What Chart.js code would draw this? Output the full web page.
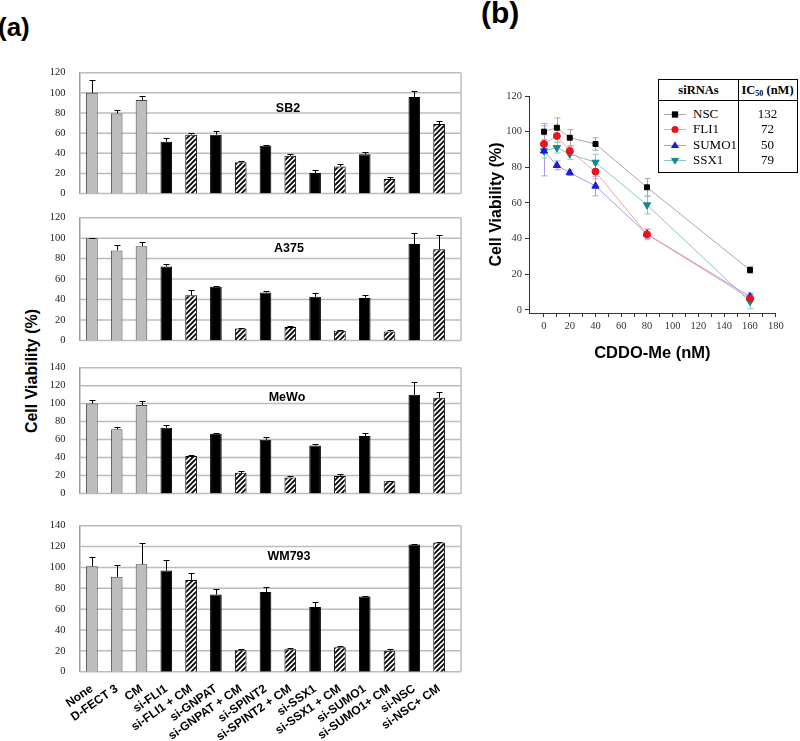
<!DOCTYPE html>
<html><head><meta charset="utf-8">
<script src="https://cdn.jsdelivr.net/npm/chart.js"></script>
<style>
html,body{margin:0;padding:0;background:#fff;}
body{width:800px;height:741px;position:relative;overflow:hidden;font-family:'Liberation Sans',Arial,sans-serif;}
canvas{position:absolute;}
.lbl{position:absolute;font-weight:bold;white-space:nowrap;color:#000;}
.ptitle{position:absolute;font-weight:bold;font-size:12.5px;line-height:1;transform:translate(-50%,-50%);white-space:nowrap;}
#legendTable{position:absolute;left:658px;top:79px;width:140px;height:94px;border:1.5px solid #000;box-sizing:border-box;font-family:'Liberation Serif','Times New Roman',serif;color:#000;background:#fff;z-index:5;}
</style></head><body>

<div class="lbl" style="left:-2px;top:14px;font-size:26px;line-height:26px;">(a)</div>
<div class="lbl" style="left:481px;top:-2px;font-size:30px;line-height:30px;">(b)</div>
<div class="lbl" style="left:-68px;top:361px;width:200px;height:20px;line-height:20px;font-size:16px;text-align:center;transform:rotate(-90deg);">Cell Viability (%)</div>
<div id="legendTable"></div>

<script>
// ---------------- Panel (a) data ----------------
const categories = ['None','D-FECT 3','CM','si-FLI1','si-FLI1 + CM','si-GNPAT','si-GNPAT + CM','si-SPINT2','si-SPINT2 + CM','si-SSX1','si-SSX1 + CM','si-SUMO1','si-SUMO1+ CM','si-NSC','si-NSC+ CM'];
const barKinds = ['gray','gray','gray','black','hatch','black','hatch','black','hatch','black','hatch','black','hatch','black','hatch'];

const sb2Values   = [100, 79.5, 93, 51.5, 58.5, 58.5, 31, 47.5, 37.5, 20.5, 27, 39, 14.5, 96, 69];
const sb2Errors   = [13, 3.5, 3.5, 4, 2, 4, 1.5, 1, 1.5, 2.5, 2, 2, 1.5, 5.5, 3];
const a375Values  = [100, 88, 92, 72.3, 44.2, 52.5, 11.6, 46.8, 13.1, 42.7, 9.5, 41.5, 8.6, 94.2, 89.2];
const a375Errors  = [0.5, 5, 4.4, 2.4, 5, 0.5, 0.5, 1.5, 1, 3.8, 0.6, 3.3, 2, 11, 14];
const mewoValues  = [100, 71.5, 98.4, 73.2, 41.7, 66.5, 22.9, 59.8, 17.8, 53.4, 19.5, 63.8, 13.5, 109.8, 106.4];
const mewoErrors  = [3.7, 2.4, 4.7, 3, 0.7, 1, 2, 3, 1.7, 2, 1.7, 4, 0.5, 14.5, 6];
const wm793Values = [101, 91, 103, 97, 88, 74, 20.5, 76.5, 21.5, 62, 23.5, 72, 20, 122, 124];
const wm793Errors = [8.6, 11, 20.5, 10, 6.5, 5, 1, 5, 0.8, 5, 1.5, 0.5, 1.5, 0.5, 0.5];
const panelNames  = ['SB2','A375','MeWo','WM793'];
const panelMaxima = [120, 120, 140, 140];

// ---------------- Panel (b) data ----------------
const doses = [0, 10, 20, 40, 80, 160];
const seriesNames = ['NSC','FLI1','SUMO1','SSX1'];
const nscViability   = [100, 102.2, 96.6, 93.1, 68.8, 22.4];
const nscErrors      = [4.5, 5.5, 4.5, 3.5, 5, 2];
const fli1Viability  = [93.1, 97.6, 89.2, 77.6, 42.4, 6.5];
const fli1Errors     = [5, 3.5, 2.5, 4, 3, 2];
const sumo1Viability = [89.2, 81.1, 77, 69.5, 42.6, 7.5];
const sumo1Errors    = [14, 2.5, 1.5, 5.5, 2.5, 2];
const ssx1Viability  = [89.2, 91, 87.5, 82.8, 58.9, 4.7];
const ssx1Errors     = [4, 3, 3, 4.5, 5, 4];
const ic50Values     = ['132','72','50','79'];
const doseTicks      = [0,10,20,30,40,50,60,70,80,90,100,110,120,130,140,150,160,170,180];
const viabilityTicks = [0,20,40,60,80,100,120];

// ---------------- helpers ----------------
function makeHatch(ctx){
  const t=document.createElement('canvas'); t.width=5; t.height=5;
  const g=t.getContext('2d');
  g.fillStyle='#fff'; g.fillRect(0,0,5,5);
  g.strokeStyle='#000'; g.lineWidth=1.9; g.lineCap='square';
  g.beginPath();
  g.moveTo(0,5); g.lineTo(5,0);
  g.moveTo(-1,1); g.lineTo(1,-1);
  g.moveTo(4,6); g.lineTo(6,4);
  g.stroke();
  return ctx.createPattern(t,'repeat');
}

const gridExtPlugin = {
  id:'gridExt',
  beforeDatasetsDraw(chart, args, opts){
    const y=chart.scales.y, ca=chart.chartArea, ctx=chart.ctx;
    const xEnd = opts.xEnd;
    ctx.save();
    ctx.strokeStyle='#bcbcbc'; ctx.lineWidth=1.5;
    y.ticks.forEach(t=>{
      const py=y.getPixelForValue(t.value);
      ctx.beginPath(); ctx.moveTo(ca.left, py); ctx.lineTo(xEnd, py); ctx.stroke();
    });
    ctx.beginPath();
    ctx.moveTo(xEnd, y.getPixelForValue(y.max)); ctx.lineTo(xEnd, y.getPixelForValue(0)); ctx.stroke();
    ctx.restore();
  }
};

const barErrorPlugin = {
  id:'barErr',
  afterDatasetsDraw(chart){
    const ds=chart.data.datasets[0], meta=chart.getDatasetMeta(0), y=chart.scales.y, ctx=chart.ctx;
    ctx.save(); ctx.strokeStyle='#000'; ctx.lineWidth=1;
    meta.data.forEach((bar,i)=>{
      const e=ds.errors[i]; if(!e) return;
      const top=Math.round(y.getPixelForValue(ds.data[i]+e))+0.5;
      const x=Math.round(bar.x)+0.5;
      ctx.beginPath();
      ctx.moveTo(x, bar.y); ctx.lineTo(x, top);
      ctx.moveTo(x-3, top); ctx.lineTo(x+3, top);
      ctx.stroke();
    });
    ctx.restore();
  }
};

// ---------------- Panel (a) charts ----------------
const panelValues = [sb2Values, a375Values, mewoValues, wm793Values];
const panelErrors = [sb2Errors, a375Errors, mewoErrors, wm793Errors];
const panelGeom = [
  {top:60,  h:160, areaTop:72.7,  areaBottom:206.8, title:[288,108]},
  {top:205, h:160, areaTop:217.7, areaBottom:352.7, title:[289,248]},
  {top:355, h:165, areaTop:367.7, areaBottom:506.7, title:[287,397]},
  {top:513, h:228, areaTop:525.7, areaBottom:671.7, title:[289,556]}
];

panelGeom.forEach((g,p)=>{
  const isLast = p===panelGeom.length-1;
  const cv=document.createElement('canvas');
  cv.width=430; cv.height=g.h;
  cv.style.left='40px'; cv.style.top=g.top+'px';
  cv.style.width='430px'; cv.style.height=g.h+'px';
  document.body.appendChild(cv);
  const ctx=cv.getContext('2d');
  const hatch=makeHatch(ctx);
  const fills={gray:'#bdbdbd', black:'#000', hatch:hatch};
  const borders={gray:'#444', black:'#000', hatch:'#000'};
  const padTop=g.areaTop-g.top;
  const padBottom=isLast?0:(g.top+g.h-g.areaBottom);
  new Chart(cv,{
    type:'bar',
    data:{labels:categories, datasets:[{
      data:panelValues[p], errors:panelErrors[p],
      backgroundColor:barKinds.map(k=>fills[k]),
      borderColor:barKinds.map(k=>borders[k]),
      borderWidth:1, barPercentage:0.47, categoryPercentage:1
    }]},
    options:{
      responsive:false, animation:false, devicePixelRatio:1,
      layout:{padding:{top:padTop, bottom:padBottom, left:0, right:18.5}},
      plugins:{legend:{display:false}, tooltip:{enabled:false}, gridExt:{xEnd:421}},
      scales:{
        x:{
          display:isLast,
          grid:{display:false}, border:{display:false},
          ticks:{autoSkip:false, minRotation:35, maxRotation:35, padding:2, color:'#000',
                 font:{family:"'Liberation Sans', Arial, sans-serif", size:12, weight:'bold'}},
          afterFit:s=>{ s.height = g.top+g.h-g.areaBottom; }
        },
        y:{
          min:0, max:panelMaxima[p],
          grid:{display:false},
          border:{display:true, color:'#9a9a9a', width:1.5},
          ticks:{stepSize:20, padding:6, color:'#222',
                 font:{family:"'Liberation Serif','Times New Roman',serif", size:10.5}},
          afterFit:s=>{ s.width=39.5; }
        }
      }
    },
    plugins:[gridExtPlugin, barErrorPlugin]
  });
  const t=document.createElement('div');
  t.className='ptitle'; t.textContent=panelNames[p];
  t.style.left=g.title[0]+'px'; t.style.top=g.title[1]+'px';
  document.body.appendChild(t);
});

// ---------------- Panel (b) chart ----------------
const seriesValues = [nscViability, fli1Viability, sumo1Viability, ssx1Viability];
const seriesErrors = [nscErrors, fli1Errors, sumo1Errors, ssx1Errors];
const seriesStyle = [
  {point:'rect',     rot:0,   marker:'#000000', line:'#a8a8a8', r:3.5},
  {point:'circle',   rot:0,   marker:'#e8141a', line:'#f3a3a3', r:3.5},
  {point:'triangle', rot:0,   marker:'#1a1ae0', line:'#a99be6', r:4.2},
  {point:'triangle', rot:180, marker:'#128a8a', line:'#86c7c7', r:4.2}
];

const lineErrorPlugin = {
  id:'lineErr',
  beforeDatasetsDraw(chart){
    const y=chart.scales.y, ctx=chart.ctx;
    ctx.save(); ctx.lineWidth=1;
    chart.data.datasets.forEach((ds,d)=>{
      const meta=chart.getDatasetMeta(d);
      ctx.strokeStyle=ds.borderColor;
      meta.data.forEach((pt,i)=>{
        const e=ds.errors[i], v=ds.data[i].y;
        const y1=y.getPixelForValue(v+e), y2=y.getPixelForValue(v-e);
        const x=Math.round(pt.x)+0.5;
        ctx.beginPath();
        ctx.moveTo(x,y1); ctx.lineTo(x,y2);
        ctx.moveTo(x-3,y1); ctx.lineTo(x+3,y1);
        ctx.moveTo(x-3,y2); ctx.lineTo(x+3,y2);
        ctx.stroke();
      });
    });
    ctx.restore();
  }
};

const cvB=document.createElement('canvas');
cvB.width=330; cvB.height=290;
cvB.style.left='470px'; cvB.style.top='80px';
cvB.style.width='330px'; cvB.style.height='290px';
document.body.appendChild(cvB);
const serifTick={family:"'Liberation Serif','Times New Roman',serif", size:10.5};
const chartB = new Chart(cvB,{
  type:'line',
  data:{datasets:seriesNames.map((n,s)=>({
    label:n,
    data:doses.map((x,i)=>({x:x, y:seriesValues[s][i]})),
    errors:seriesErrors[s],
    borderColor:seriesStyle[s].line, borderWidth:1,
    pointStyle:seriesStyle[s].point, pointRotation:seriesStyle[s].rot,
    pointRadius:seriesStyle[s].r, pointBackgroundColor:seriesStyle[s].marker,
    pointBorderColor:seriesStyle[s].marker, pointBorderWidth:1,
    tension:0, fill:false
  }))},
  options:{
    responsive:false, animation:false, devicePixelRatio:1,
    layout:{padding:{top:16, left:0, right:24.25, bottom:0}},
    plugins:{legend:{display:false}, tooltip:{enabled:false}},
    scales:{
      x:{
        type:'linear', min:-11.65, max:180,
        afterBuildTicks:s=>{ s.ticks=doseTicks.map(v=>({value:v})); },
        grid:{drawOnChartArea:false, drawTicks:true, tickLength:4, color:'#333'},
        border:{display:true, color:'#333', width:1},
        ticks:{padding:3, color:'#333', font:serifTick, autoSkip:false, maxRotation:0,
               callback:v=> (v%20===0 ? String(v) : '')},
        title:{display:true, text:'CDDO-Me (nM)', color:'#000',
               font:{family:"'Liberation Sans', Arial, sans-serif", size:16.5, weight:'bold'},
               padding:{top:0, bottom:7}},
        afterFit:s=>{ s.height=57; }
      },
      y:{
        min:-1.7, max:120,
        afterBuildTicks:s=>{ s.ticks=viabilityTicks.map(v=>({value:v})); },
        grid:{drawOnChartArea:false, drawTicks:true, tickLength:4, color:'#333'},
        border:{display:true, color:'#333', width:1},
        ticks:{padding:3, color:'#333', font:serifTick},
        title:{display:true, text:'Cell Viability (%)', color:'#000',
               font:{family:"'Liberation Sans', Arial, sans-serif", size:16, weight:'bold'},
               padding:{top:17.4, bottom:0}},
        afterFit:s=>{ s.width=59; }
      }
    }
  },
  plugins:[lineErrorPlugin]
});

// ---------------- Legend table (built from chart datasets) ----------------
(function buildLegend(){
  const box=document.getElementById('legendTable');
  const add=(html,style)=>{ const d=document.createElement('div'); d.style.position='absolute'; Object.assign(d.style,style); d.innerHTML=html; box.appendChild(d); return d; };
  add('', {left:'0', top:'19.5px', width:'100%', height:'0', borderTop:'1.2px solid #000'});
  add('', {left:'78.5px', top:'0', width:'0', height:'100%', borderLeft:'1.2px solid #000'});
  add('siRNAs', {left:'0', top:'3px', width:'79px', textAlign:'center', fontWeight:'bold', fontSize:'12.5px', lineHeight:'14px'});
  add('IC<sub style="font-size:8px;vertical-align:-2px;">50</sub> (nM)', {left:'79px', top:'3px', width:'59px', textAlign:'center', fontWeight:'bold', fontSize:'12.5px', lineHeight:'14px'});
  const rowY=[35,50,66,81];
  chartB.data.datasets.forEach((ds,i)=>{
    const cy=rowY[i];
    const c=document.createElement('canvas'); c.width=24; c.height=12;
    c.style.position='absolute'; c.style.left='4px'; c.style.top=(cy-6-1.5)+'px';
    box.appendChild(c);
    const g=c.getContext('2d');
    g.strokeStyle=ds.borderColor; g.lineWidth=1;
    g.beginPath(); g.moveTo(1,6.5); g.lineTo(23,6.5); g.stroke();
    g.fillStyle=ds.pointBackgroundColor;
    const r=ds.pointRadius;
    g.beginPath();
    if(ds.pointStyle==='rect'){ g.rect(12-r*0.9,6.5-r*0.9,r*1.8,r*1.8); }
    else if(ds.pointStyle==='circle'){ g.arc(12,6.5,r,0,Math.PI*2); }
    else if(ds.pointRotation===180){ g.moveTo(12-r,6.5-r*0.6); g.lineTo(12+r,6.5-r*0.6); g.lineTo(12,6.5+r); g.closePath(); }
    else { g.moveTo(12-r,6.5+r*0.6); g.lineTo(12+r,6.5+r*0.6); g.lineTo(12,6.5-r); g.closePath(); }
    g.fill();
    add(ds.label, {left:'34px', top:(cy-1.5-8)+'px', fontSize:'13px', lineHeight:'16px'});
    add(ic50Values[i], {left:'79px', top:(cy-1.5-8)+'px', width:'59px', textAlign:'center', fontSize:'13px', lineHeight:'16px'});
  });
})();
</script>
</body></html>
